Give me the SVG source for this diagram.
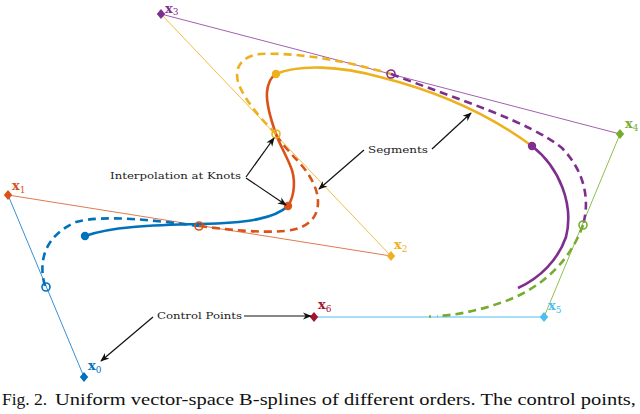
<svg xmlns="http://www.w3.org/2000/svg" width="640" height="414" viewBox="0 0 640 414">
<style>
.poly{fill:none;stroke-width:1}
.c{fill:none;stroke-width:2.6;stroke-linecap:butt}
.d{fill:none;stroke-width:2.6;stroke-dasharray:8,5}
.oc{fill:none;stroke-width:1.6}
.ann{font-family:"DejaVu Serif","Liberation Serif",serif;font-size:10px;fill:#222}
.lab{font-family:"DejaVu Serif","Liberation Serif",serif;font-weight:bold;font-size:13px}
.sub{font-size:9px;font-weight:normal}
.arr{fill:none;stroke:#111;stroke-width:1.2;marker-end:url(#ah)}
.cap{font-family:"Liberation Serif","Times New Roman",serif;font-size:17.5px;fill:#111}
</style>
<defs>
<marker id="ah" viewBox="0 0 10 10" refX="9" refY="5" markerWidth="9" markerHeight="9" markerUnits="userSpaceOnUse" orient="auto">
<path d="M0,1 L10,5 L0,9 L3,5 Z" fill="#111"/>
</marker>
<path id="dia" d="M0,-5 L4.2,0 L0,5 L-4.2,0 Z"/>
</defs>
<rect width="640" height="414" fill="#fff"/>

<g id="polygon">
<line class="poly" x1="84" y1="377" x2="8" y2="195" stroke="#3a8fd4"/>
<line class="poly" x1="8" y1="195" x2="391" y2="256" stroke="#e07a50"/>
<line class="poly" x1="391" y1="256" x2="161" y2="14" stroke="#f0bf40"/>
<line class="poly" x1="161" y1="14" x2="620" y2="134" stroke="#a060b0"/>
<line class="poly" x1="620" y1="134" x2="544" y2="317" stroke="#8cc050"/>
<line class="poly" x1="544" y1="317" x2="314" y2="317" stroke="#4DBEEE"/>
</g>

<g id="curves">
<path class="d" stroke="#0072BD" d="M45,286 C38,262 44,236 76,222 C105,214 160,221 199,226"/>
<path class="c" stroke="#0072BD" d="M85,236 C110,227 150,225 200,224 C250,223 275,218 288,206"/>
<path class="d" stroke="#D95319" d="M199,226 C230,230 260,233 285,231 C305,229 318,220 318,202 C318,185 305,168 295,158 C288,150 280,142 276,134"/>
<path class="c" stroke="#D95319" d="M288,206 C295,195 296,178 290,165 C285,153 279,143 276,134 C271,120 266,105 267,92 C268,82 271,77 276,74"/>
<path class="d" stroke="#EDB120" d="M276,134 C262,120 244,100 238,82 C234,66 243,56 260,54 C300,52 350,62 391,74"/>
<path class="c" stroke="#EDB120" d="M276,74 C300,64 340,66 380,77 C440,92 490,115 532,146"/>
<path class="d" stroke="#7E2F8E" d="M391,74 C460,100 530,122 562,148 C585,172 590,200 583,225"/>
<path class="c" stroke="#7E2F8E" d="M532,146 C560,168 574,205 566,237 C558,260 540,278 518,288"/>
<path class="d" stroke="#77AC30" d="M583,225 C570,262 540,290 500,303 C480,310 458,315 437,316"/>
<path class="c" stroke="#77AC30" stroke-width="1.5" d="M429,316.5 L431,316.5"/>
</g>

<g id="knots">
<circle cx="85" cy="236" r="4.2" fill="#0072BD"/>
<circle cx="288" cy="206" r="4.2" fill="#D95319"/>
<circle cx="276" cy="74" r="4.2" fill="#EDB120"/>
<circle cx="532" cy="146" r="4.2" fill="#7E2F8E"/>
<circle class="oc" cx="46" cy="287" r="4" stroke="#0072BD"/>
<circle class="oc" cx="199" cy="226" r="4" stroke="#D95319"/>
<circle class="oc" cx="276" cy="134" r="4" stroke="#EDB120"/>
<circle class="oc" cx="391" cy="74" r="4" stroke="#7E2F8E"/>
<circle class="oc" cx="583" cy="225" r="4" stroke="#77AC30"/>
</g>

<g id="x0"><use href="#dia" x="84" y="377" fill="#0072BD"/><text class="lab" x="88" y="370" fill="#0072BD">x<tspan class="sub" dy="3">0</tspan></text></g>
<g id="x1"><use href="#dia" x="8" y="195" fill="#D95319"/><text class="lab" x="12" y="190" fill="#D95319">x<tspan class="sub" dy="3">1</tspan></text></g>
<g id="x2"><use href="#dia" x="391" y="256" fill="#EDB120"/><text class="lab" x="394" y="249" fill="#EDB120">x<tspan class="sub" dy="3">2</tspan></text></g>
<g id="x3"><use href="#dia" x="161" y="14" fill="#7E2F8E"/><text class="lab" x="165" y="12.5" fill="#7E2F8E">x<tspan class="sub" dy="2.5">3</tspan></text></g>
<g id="x4"><use href="#dia" x="620" y="134" fill="#77AC30"/><text class="lab" x="625" y="128" fill="#77AC30">x<tspan class="sub" dy="3">4</tspan></text></g>
<g id="x5"><use href="#dia" x="544" y="317" fill="#4DBEEE"/><text class="lab" x="548" y="310" fill="#4DBEEE">x<tspan class="sub" dy="3">5</tspan></text></g>
<g id="x6"><use href="#dia" x="314" y="317" fill="#A2142F"/><text class="lab" x="318" y="309" fill="#A2142F">x<tspan class="sub" dy="3">6</tspan></text></g>

<g id="annotations">
<text class="ann" x="110" y="179" textLength="131" lengthAdjust="spacingAndGlyphs">Interpolation at Knots</text>
<text class="ann" x="368" y="153" textLength="60" lengthAdjust="spacingAndGlyphs">Segments</text>
<text class="ann" x="157" y="319" textLength="85" lengthAdjust="spacingAndGlyphs">Control Points</text>
</g>

<g id="connectors">
<line class="arr" x1="246" y1="177" x2="274" y2="138"/>
<line class="arr" x1="246" y1="178" x2="286" y2="205"/>
<line class="arr" x1="432" y1="149" x2="471" y2="113"/>
<line class="arr" x1="364" y1="150" x2="319" y2="189"/>
<line class="arr" x1="244" y1="316" x2="311" y2="316"/>
<line class="arr" x1="153" y1="317" x2="101" y2="361"/>
</g>

<g id="caption">
<text class="cap" x="2" y="405">Fig. 2.</text>
<text class="cap" x="55" y="405" textLength="581" lengthAdjust="spacingAndGlyphs">Uniform vector-space B-splines of different orders. The control points,</text>
</g>
</svg>
